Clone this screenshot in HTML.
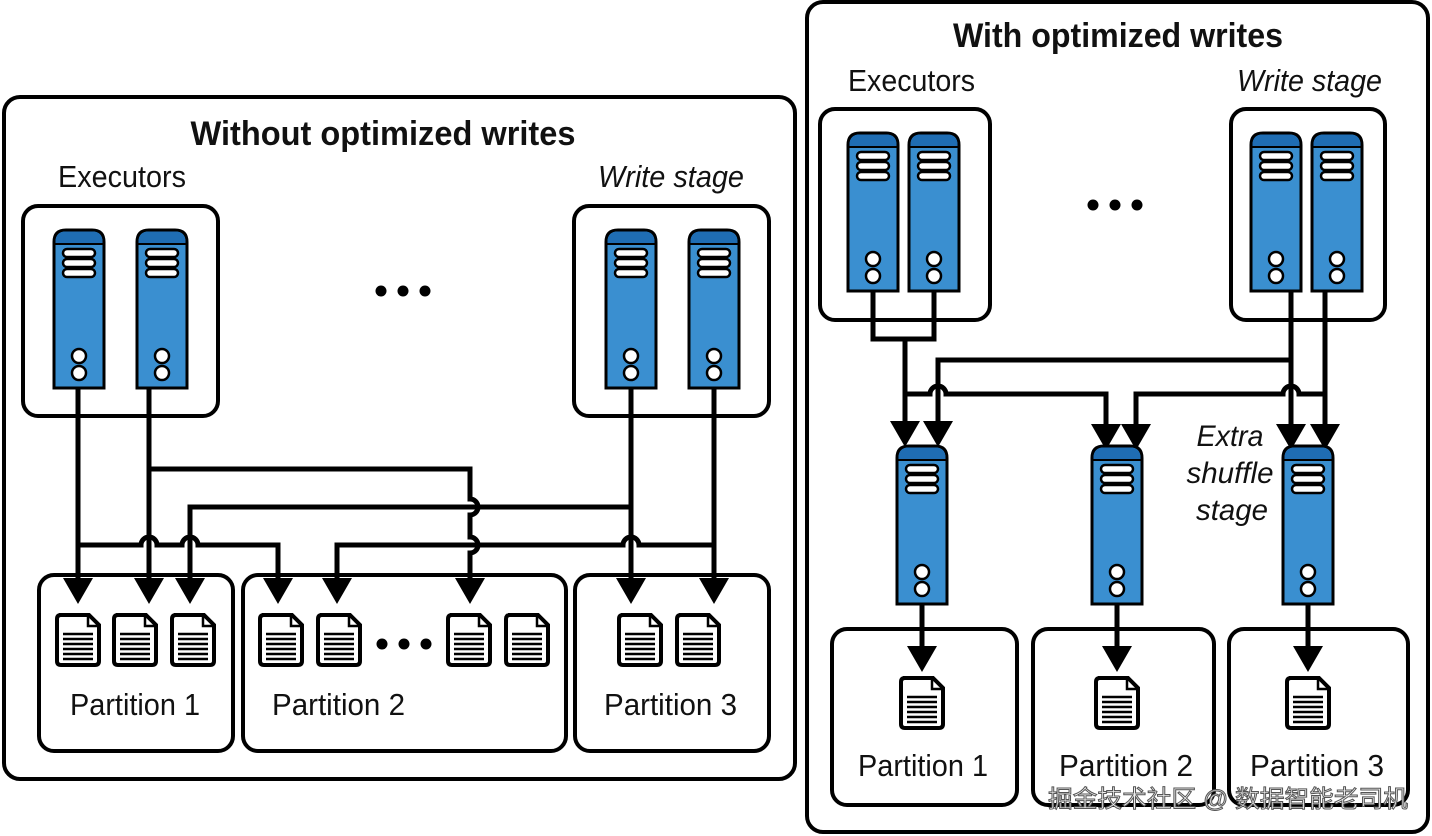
<!DOCTYPE html>
<html><head><meta charset="utf-8"><style>
html,body{margin:0;padding:0;background:#fff}
svg{display:block}
text{font-family:"Liberation Sans","Noto Sans CJK SC",sans-serif;fill:#111}
</style></head><body>
<svg width="1432" height="836" viewBox="0 0 1432 836" xmlns="http://www.w3.org/2000/svg">
<defs>
<g id="srv">
<path d="M0,158 V12 Q0,0 12,0 H38 Q50,0 50,12 V158 Z" fill="#3a8fd0" stroke="#000" stroke-width="3"/>
<path d="M1.5,14 V12 Q1.5,1.5 12,1.5 H38 Q48.5,1.5 48.5,12 V14 Z" fill="#1f6db3"/>
<line x1="0" y1="14" x2="50" y2="14" stroke="#000" stroke-width="2"/>
<rect x="9" y="19" width="32" height="8" rx="4" fill="#fff" stroke="#000" stroke-width="2.5"/>
<rect x="9" y="29" width="32" height="8" rx="4" fill="#fff" stroke="#000" stroke-width="2.5"/>
<rect x="9" y="39" width="32" height="8" rx="4" fill="#fff" stroke="#000" stroke-width="2.5"/>
<circle cx="25" cy="126" r="7" fill="#fff" stroke="#000" stroke-width="2.5"/>
<circle cx="25" cy="143" r="7" fill="#fff" stroke="#000" stroke-width="2.5"/>
</g>
<g id="file">
<path d="M4,2 H34 L44,12 V48 Q44,52 40,52 H6 Q2,52 2,48 V6 Q2,2 6,2 Z" fill="#fff" stroke="#000" stroke-width="4"/>
<path d="M33,3 V13 H43" fill="none" stroke="#000" stroke-width="2.5"/>
<path d="M8,21 H38 M8,26 H38 M8,31 H38 M8,36 H38 M8,41 H38 M8,46 H38" stroke="#000" stroke-width="2.5"/>
</g>
</defs>

<!-- LEFT PANEL -->
<rect x="4" y="97" width="791" height="682" rx="16" fill="#fff" stroke="#000" stroke-width="4"/>
<text x="383" y="145" text-anchor="middle" font-size="34" font-weight="bold" textLength="385" lengthAdjust="spacingAndGlyphs">Without optimized writes</text>
<text x="58" y="187" font-size="31" textLength="128" lengthAdjust="spacingAndGlyphs">Executors</text>
<text x="598" y="187" font-size="31" font-style="italic" textLength="146" lengthAdjust="spacingAndGlyphs">Write stage</text>

<rect x="23" y="206" width="195" height="210" rx="15" fill="#fff" stroke="#000" stroke-width="4"/>
<rect x="574" y="206" width="195" height="210" rx="15" fill="#fff" stroke="#000" stroke-width="4"/>
<use href="#srv" x="54" y="230"/>
<use href="#srv" x="137" y="230"/>
<use href="#srv" x="606" y="230"/>
<use href="#srv" x="689" y="230"/>
<g fill="#000"><circle cx="381" cy="291" r="5.5"/><circle cx="403" cy="291" r="5.5"/><circle cx="425" cy="291" r="5.5"/></g>

<rect x="39" y="575" width="194" height="176" rx="15" fill="#fff" stroke="#000" stroke-width="4"/>
<rect x="243" y="575" width="323" height="176" rx="15" fill="#fff" stroke="#000" stroke-width="4"/>
<rect x="575" y="575" width="194" height="176" rx="15" fill="#fff" stroke="#000" stroke-width="4"/>

<g fill="none" stroke="#000" stroke-width="5">
<path d="M78,388 V585"/>
<path d="M78,545 H141 A8,8 0 0 1 157,545 H182 A8,8 0 0 1 198,545 H278 V585"/>
<path d="M149,388 V585"/>
<path d="M149,469 H470 V499 A8,8 0 0 1 470,515 V537 A8,8 0 0 1 470,553 V585"/>
<path d="M631,388 V585"/>
<path d="M631,507 H190 V585"/>
<path d="M714,388 V585"/>
<path d="M337,585 V545 H623 A8,8 0 0 1 639,545 H714"/>
</g>
<g fill="#000">
<polygon points="63,578 93,578 78,604"/>
<polygon points="134,578 164,578 149,604"/>
<polygon points="175,578 205,578 190,604"/>
<polygon points="263,578 293,578 278,604"/>
<polygon points="322,578 352,578 337,604"/>
<polygon points="455,578 485,578 470,604"/>
<polygon points="616,578 646,578 631,604"/>
<polygon points="699,578 729,578 714,604"/>
</g>
<use href="#file" x="55" y="613"/>
<use href="#file" x="112" y="613"/>
<use href="#file" x="170" y="613"/>
<use href="#file" x="258" y="613"/>
<use href="#file" x="316" y="613"/>
<use href="#file" x="446" y="613"/>
<use href="#file" x="504" y="613"/>
<use href="#file" x="617" y="613"/>
<use href="#file" x="675" y="613"/>
<g fill="#000"><circle cx="382" cy="644" r="5.5"/><circle cx="404" cy="644" r="5.5"/><circle cx="426" cy="644" r="5.5"/></g>
<text x="70" y="715" font-size="31" textLength="130" lengthAdjust="spacingAndGlyphs">Partition 1</text>
<text x="272" y="715" font-size="31" textLength="133" lengthAdjust="spacingAndGlyphs">Partition 2</text>
<text x="604" y="715" font-size="31" textLength="133" lengthAdjust="spacingAndGlyphs">Partition 3</text>

<!-- RIGHT PANEL -->
<rect x="807" y="2" width="621" height="830" rx="16" fill="#fff" stroke="#000" stroke-width="4"/>
<text x="1118" y="47" text-anchor="middle" font-size="34" font-weight="bold" textLength="330" lengthAdjust="spacingAndGlyphs">With optimized writes</text>
<text x="848" y="91" font-size="31" textLength="127" lengthAdjust="spacingAndGlyphs">Executors</text>
<text x="1237" y="91" font-size="31" font-style="italic" textLength="145" lengthAdjust="spacingAndGlyphs">Write stage</text>

<rect x="820" y="109" width="170" height="211" rx="15" fill="#fff" stroke="#000" stroke-width="4"/>
<rect x="1231" y="109" width="154" height="211" rx="15" fill="#fff" stroke="#000" stroke-width="4"/>
<use href="#srv" x="848" y="133"/>
<use href="#srv" x="909" y="133"/>
<use href="#srv" x="1251" y="133"/>
<use href="#srv" x="1312" y="133"/>
<g fill="#000"><circle cx="1093" cy="205" r="5.5"/><circle cx="1115" cy="205" r="5.5"/><circle cx="1137" cy="205" r="5.5"/></g>

<rect x="832" y="629" width="185" height="176" rx="15" fill="#fff" stroke="#000" stroke-width="4"/>
<rect x="1033" y="629" width="181" height="176" rx="15" fill="#fff" stroke="#000" stroke-width="4"/>
<rect x="1229" y="629" width="179" height="176" rx="15" fill="#fff" stroke="#000" stroke-width="4"/>

<g fill="none" stroke="#000" stroke-width="5">
<path d="M873,290 V339 H934 V290"/>
<path d="M905,339 V425"/>
<path d="M938,425 V360 H1291"/>
<path d="M905,394 H930 A8,8 0 0 1 946,394 H1106 V428"/>
<path d="M1136,428 V394 H1283 A8,8 0 0 1 1299,394 H1325"/>
<path d="M1291,290 V428"/>
<path d="M1325,290 V428"/>
<path d="M922,604 V650"/>
<path d="M1117,604 V650"/>
<path d="M1308,604 V650"/>
</g>
<g fill="#000">
<polygon points="890,421 920,421 905,447"/>
<polygon points="923,421 953,421 938,447"/>
<polygon points="1091,424 1121,424 1106,450"/>
<polygon points="1121,424 1151,424 1136,450"/>
<polygon points="1276,424 1306,424 1291,450"/>
<polygon points="1310,424 1340,424 1325,450"/>
<polygon points="907,646 937,646 922,672"/>
<polygon points="1102,646 1132,646 1117,672"/>
<polygon points="1293,646 1323,646 1308,672"/>
</g>
<use href="#srv" x="897" y="446"/>
<use href="#srv" x="1092" y="446"/>
<use href="#srv" x="1283" y="446"/>
<text x="1230" y="446" text-anchor="middle" font-size="30" font-style="italic" textLength="67" lengthAdjust="spacingAndGlyphs">Extra</text>
<text x="1230" y="483" text-anchor="middle" font-size="30" font-style="italic" textLength="87" lengthAdjust="spacingAndGlyphs">shuffle</text>
<text x="1232" y="520" text-anchor="middle" font-size="30" font-style="italic" textLength="72" lengthAdjust="spacingAndGlyphs">stage</text>

<use href="#file" x="899" y="676"/>
<use href="#file" x="1094" y="676"/>
<use href="#file" x="1285" y="676"/>
<text x="858" y="776" font-size="31" textLength="130" lengthAdjust="spacingAndGlyphs">Partition 1</text>
<text x="1059" y="776" font-size="31" textLength="134" lengthAdjust="spacingAndGlyphs">Partition 2</text>
<text x="1250" y="776" font-size="31" textLength="134" lengthAdjust="spacingAndGlyphs">Partition 3</text>
<text x="1048" y="807" font-size="24" textLength="360" lengthAdjust="spacingAndGlyphs" style="fill:#f2f2f2;stroke:#555;stroke-width:1">掘金技术社区 @ 数据智能老司机</text>
</svg>
</body></html>
